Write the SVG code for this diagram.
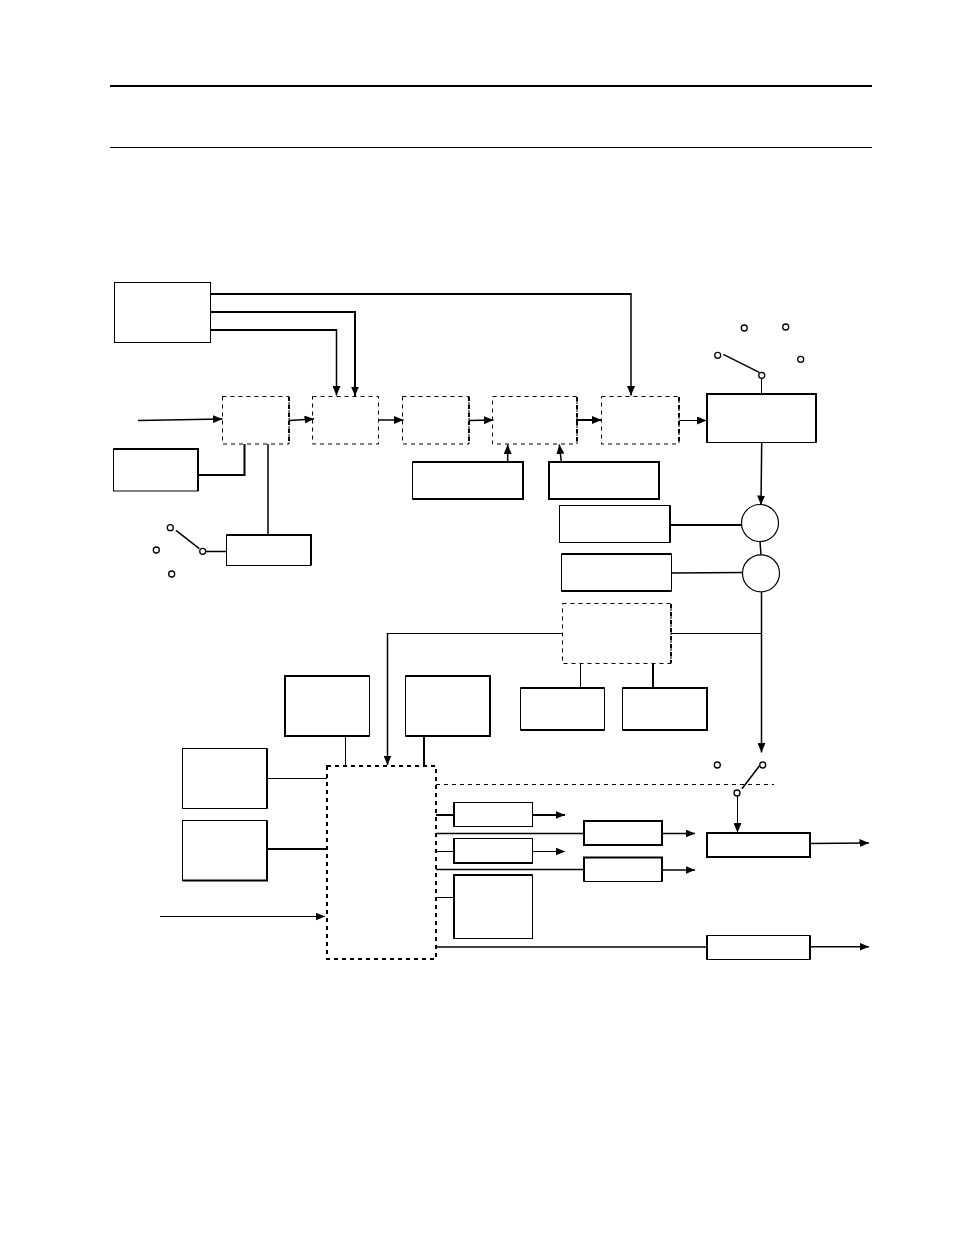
<svg xmlns="http://www.w3.org/2000/svg" width="954" height="1235" viewBox="0 0 954 1235">
<style>
.b{fill:#fff;stroke:#000;stroke-width:1}
.e{fill:none;stroke:#000;stroke-width:2}
.d{fill:none;stroke:#000;stroke-width:1;stroke-dasharray:4 4}
.c{fill:none;stroke:#000;stroke-width:1}
.m{fill:none;stroke:#000;stroke-width:1.5}
.t{fill:none;stroke:#000;stroke-width:2}
.a{marker-end:url(#ah)}
.p{fill:#fff;stroke:#000;stroke-width:1.3}
</style>
<defs>
<marker id="ah" markerUnits="userSpaceOnUse" markerWidth="10" markerHeight="8" refX="9.5" refY="4" orient="auto"><path d="M0,0L9.5,4L0,8Z" fill="#000"/></marker>
</defs>
<rect width="954" height="1235" fill="#fff"/>
<g id="rules">
<path d="M110,86H872" class="t"/>
<path d="M110,147.5H872" class="c"/>
</g>
<g id="connectors">
<path class="t" d="M211,294H631"/>
<path class="m a" d="M631,293V395.5"/>
<path class="t a" d="M211,312H355V396"/>
<path class="t" d="M211,330H336.5"/>
<path class="m a" d="M336.5,329V395.5"/>
<path class="m a" d="M138,420.5L222.5,419"/>
<path class="m a" d="M289,420.5L314,419"/>
<path class="m a" d="M379,420H403.5"/>
<path class="m a" d="M469,420.5L493.5,420"/>
<path class="t a" d="M577,422V420H601.5"/>
<path class="c a" d="M679,420.5H706.5"/>
<path class="t" d="M198,475H244.5V444"/>
<path class="m" d="M268,444V535"/>
<path class="m a" d="M507.7,462V444.5"/>
<path class="m a" d="M561.3,461.5L559.3,444.5"/>
<path class="m a" d="M761.7,442.5L761,505"/>
<path class="t" d="M670,525H741.5"/>
<path class="m" d="M671.7,573L743,572.5"/>
<path class="m" d="M760,541.5L761,555"/>
<path class="m a" d="M761.5,592V752.5"/>
<path class="c" d="M671,633.5H761.5"/>
<path class="c" d="M562,633.5H387.5"/>
<path class="m a" d="M387.5,633V765"/>
<path class="c" d="M580.5,663V688"/>
<path class="t" d="M653,663V688"/>
<path class="c" d="M345.5,736V765.5"/>
<path class="t" d="M424,736V765.5"/>
<path class="c" d="M267,778.5H327"/>
<path class="t" d="M267,849H327"/>
<path class="c a" d="M160,916.5H325"/>
<path class="d" d="M436,784.5H774"/>
<path class="t" d="M436,815H454"/>
<path class="t a" d="M532,815H565"/>
<path class="m" d="M436,833.5H584"/>
<path class="m a" d="M662,833.5H695"/>
<path class="c" d="M436,851.5H454"/>
<path class="c a" d="M532,851.5H565"/>
<path class="m" d="M436,869.5H584"/>
<path class="m a" d="M662,870H695"/>
<path class="c" d="M436,897.5H454"/>
<path class="m" d="M436,947H707"/>
<path class="m a" d="M810,946.7H869"/>
<path class="m a" d="M810,843.5L869,843"/>
<path class="c a" d="M737.5,796V832.5"/>
<path class="m" d="M176,530.3L199.3,548.7"/>
<path class="m" d="M206,551.5H226"/>
<path class="m" d="M723.3,354.3L759.3,372.3"/>
<path class="c" d="M761.5,378.5V394"/>
<path class="m" d="M742,788.7L759.3,766"/>
</g>
<g id="box-a"><rect class="b" x="114.5" y="282.5" width="96" height="60"/></g>
<g id="dash-1"><rect class="d" x="222.5" y="396.5" width="66.5" height="47.5"/><path class="e" stroke-dasharray="4 4" d="M289,397V444"/></g>
<g id="dash-2"><rect class="d" x="312.5" y="396.5" width="66" height="47.5"/></g>
<g id="dash-3"><rect class="d" x="402.5" y="396.5" width="66.5" height="47.5"/><path class="e" stroke-dasharray="4 4" d="M469,397V444"/></g>
<g id="dash-4"><rect class="d" x="492.5" y="396.5" width="84.5" height="47.5"/><path class="e" stroke-dasharray="4 4" d="M577,397V444"/></g>
<g id="dash-5"><rect class="d" x="601.5" y="396.5" width="77.5" height="47.5"/><path class="e" stroke-dasharray="4 4" d="M679,397V444"/></g>
<g id="box-b"><rect class="b" x="113.5" y="449" width="84.5" height="42"/><path class="e" d="M113.5,449H198V491"/></g>
<g id="box-c"><rect class="b" x="226.5" y="535" width="84.5" height="30.5"/><path class="e" d="M226.5,535H311V565"/></g>
<g id="box-d"><rect class="b" x="412.5" y="462" width="110.5" height="37"/><path class="e" d="M412.5,462H523V499H412.5"/></g>
<g id="box-e"><rect class="b" x="549" y="462" width="110" height="37"/><path class="e" d="M549,462H659V499H549Z"/></g>
<g id="box-f"><rect class="b" x="707" y="394" width="109" height="48.5"/><path class="e" d="M707,442.5V394H816V442.5"/></g>
<g id="box-g"><rect class="b" x="559.5" y="505.5" width="110.5" height="37"/><path class="e" d="M670,505.5V542.5"/></g>
<g id="box-h"><rect class="b" x="561.5" y="554" width="110" height="37"/><path class="e" d="M561.5,554H671.5M561.5,591H671.5"/></g>
<g id="sum-1"><circle class="b" cx="760" cy="523" r="18.5" style="stroke-width:1.2"/></g>
<g id="sum-2"><circle class="b" cx="761" cy="573.3" r="18.5" style="stroke-width:1.2"/></g>
<g id="dash-6"><rect class="d" x="562.5" y="603.5" width="108.5" height="60"/><path class="e" stroke-dasharray="4 4" d="M671,604V663"/></g>
<g id="box-i"><rect class="b" x="285" y="676" width="84.5" height="60"/><path class="e" d="M369.5,676H285V736H369.5"/></g>
<g id="box-j"><rect class="b" x="405.5" y="676" width="84.5" height="60"/><path class="e" d="M405.5,676H490V736H405.5"/></g>
<g id="box-k"><rect class="b" x="520.5" y="688" width="84" height="42"/><path class="e" d="M520.5,688H604.5M520.5,730H604.5"/></g>
<g id="box-l"><rect class="b" x="622.5" y="688" width="84.5" height="42"/><path class="e" d="M622.5,688H707V730H622.5"/></g>
<g id="box-m"><rect class="b" x="182.5" y="748.5" width="84.5" height="60"/><path class="e" d="M267,748.5V808.5"/></g>
<g id="box-n"><rect class="b" x="182.5" y="820.5" width="84.5" height="60"/><path class="e" d="M267,820.5V880.5H182.5"/></g>
<g id="dash-big"><rect class="d" x="327" y="766" width="109" height="193" style="stroke-width:2"/></g>
<g id="box-p"><rect class="b" x="453.5" y="802.5" width="79" height="24"/><path class="e" d="M454,802.5V826.5"/></g>
<g id="box-q"><rect class="e" style="fill:#fff" x="584" y="821" width="78" height="24"/></g>
<g id="box-r"><rect class="b" x="453.5" y="838.5" width="79" height="24.5"/><path class="e" d="M454,838.5V863H532.5"/></g>
<g id="box-s"><rect class="b" x="584" y="857.5" width="78" height="24"/><path class="e" d="M584,881.5V857.5H662V881.5"/></g>
<g id="box-t"><rect class="b" x="453.5" y="875" width="79" height="63.5"/><path class="e" d="M454,938.5V875H532.5"/></g>
<g id="box-u"><rect class="e" style="fill:#fff" x="707" y="833" width="103" height="24"/></g>
<g id="box-v"><rect class="b" x="707" y="935.5" width="103" height="24"/><path class="e" d="M707,935.5V959.5M810,935.5V959.5"/></g>
<g id="switch-1">
<circle class="p" cx="170.3" cy="527.7" r="3"/><circle class="p" cx="156.3" cy="550" r="3"/><circle class="p" cx="171.7" cy="574" r="3"/><circle class="p" cx="202.7" cy="551.3" r="3"/>
</g>
<g id="switch-2">
<circle class="p" cx="744.3" cy="328" r="3"/><circle class="p" cx="785.7" cy="327" r="3"/><circle class="p" cx="717.7" cy="355.3" r="3"/><circle class="p" cx="800.7" cy="359.3" r="3"/><circle class="p" cx="761.7" cy="375.3" r="3"/>
</g>
<g id="switch-3">
<circle class="p" cx="717.3" cy="765" r="3"/><circle class="p" cx="762.7" cy="765" r="3"/><circle class="p" cx="737" cy="793" r="3"/>
</g>
</svg>
